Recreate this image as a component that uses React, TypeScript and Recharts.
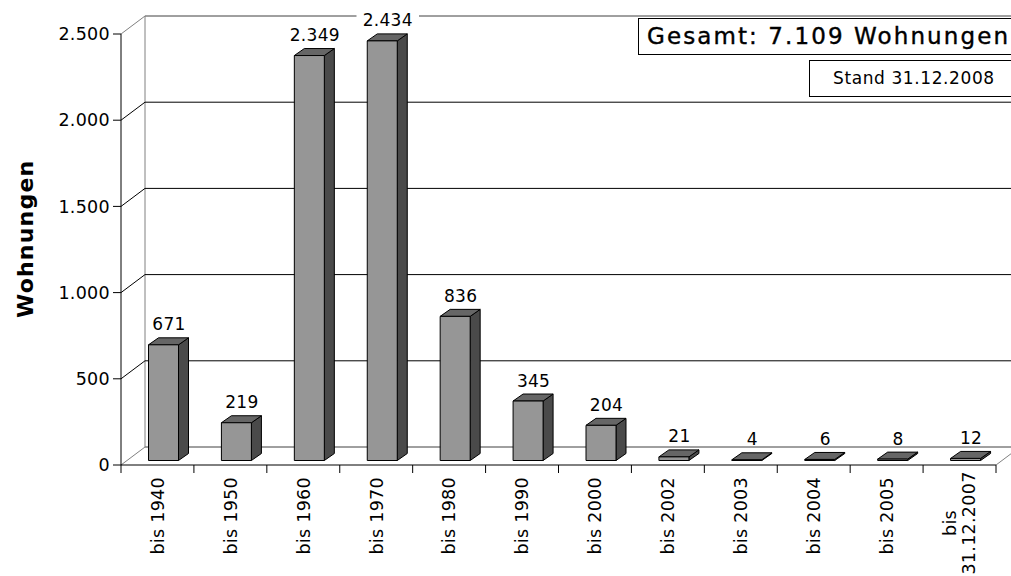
import React from 'react';
import { BarChart, Bar, XAxis, YAxis, CartesianGrid, LabelList } from 'recharts';

const categories = [
  'bis 1940',
  'bis 1950',
  'bis 1960',
  'bis 1970',
  'bis 1980',
  'bis 1990',
  'bis 2000',
  'bis 2002',
  'bis 2003',
  'bis 2004',
  'bis 2005',
  'bis 31.12.2007',
];
const counts = [671, 219, 2349, 2434, 836, 345, 204, 21, 4, 6, 8, 12];
const yTicks = [0, 500, 1000, 1500, 2000, 2500];
const axisTitle = 'Wohnungen';
const totalText = 'Gesamt: 7.109 Wohnungen';
const dateText = 'Stand 31.12.2008';

const data = categories.map((cat, i) => ({ cat, value: counts[i] }));

const W = 1011;
const H = 576;
const TOP = 34;
const BOTTOM = 465;
const LEFT = 121;
const RIGHT = 996;
const DX = 24; // back wall offset
const DY = -18;
const SX = 6.5; // bar sits a bit back in the depth
const SY = -4.5;
const BX = 10; // bar depth
const BY = -7;
const FONT = '"DejaVu Sans", Verdana, sans-serif';
const WALL = '#808080';

// german thousands separator
const fmt = (n: number) => String(n).replace(/\B(?=(\d{3})+(?!\d))/g, '.');

const Bar3D = (props: any) => {
  const { x, y, width, height } = props;
  const fx = x + SX;
  const fy = y + SY;
  const r = fx + width;
  const h = Math.max(height, 0);
  return (
    <g stroke="#000" strokeWidth={1} strokeLinejoin="round">
      <polygon
        points={`${r},${fy + h} ${r + BX},${fy + h + BY} ${r + BX},${fy + BY} ${r},${fy}`}
        fill="#4a4a4a"
      />
      <polygon
        points={`${fx},${fy} ${fx + BX},${fy + BY} ${r + BX},${fy + BY} ${r},${fy}`}
        fill="#666666"
      />
      <rect x={fx} y={fy} width={width} height={h} fill="#969696" />
    </g>
  );
};

const ValueLabel = (props: any) => {
  const { x, y, width, value } = props;
  const cx = x + width / 2 + 12;
  const base = y - 19;
  const text = fmt(value);
  const tw = text.length * 10.5;
  return (
    <g>
      {base - 16 < 20 && (
        <rect x={cx - tw / 2 - 5} y={base - 16} width={tw + 10} height={20} fill="#fff" />
      )}
      <text x={cx} y={base} textAnchor="middle" fontSize={17} letterSpacing={0.3} fontFamily={FONT} fill="#000">
        {text}
      </text>
    </g>
  );
};

const CatTick = (props: any) => {
  const { x, payload, index } = props;
  const half = payload && payload.offset ? payload.offset : (RIGHT - LEFT) / categories.length / 2;
  const label = String(payload.value);
  const lines = label.length > 10 ? label.split(' ') : [label];
  const tickLines = (
    <g stroke="#000">
      <line x1={x - half} x2={x - half} y1={BOTTOM} y2={BOTTOM + 8} />
      {index === categories.length - 1 && <line x1={x + half} x2={x + half} y1={BOTTOM} y2={BOTTOM + 8} />}
    </g>
  );
  if (lines.length === 1) {
    return (
      <g>
        {tickLines}
        <text
          x={x}
          y={477}
          transform={`rotate(-90, ${x}, 477)`}
          textAnchor="end"
          dy="0.36em"
          fontSize={17.5}
          letterSpacing={0.3}
          fontFamily={FONT}
          fill="#000"
        >
          {label}
        </text>
      </g>
    );
  }
  const cy = 523;
  return (
    <g>
      {tickLines}
      {lines.map((ln, i) => {
        const lx = x + (i === 0 ? -10 : 9);
        return (
          <text
            key={ln}
            x={lx}
            y={cy}
            transform={`rotate(-90, ${lx}, ${cy})`}
            textAnchor="middle"
            dy="0.36em"
            fontSize={17.5}
            letterSpacing={0.3}
            fontFamily={FONT}
            fill="#000"
          >
            {ln}
          </text>
        );
      })}
    </g>
  );
};

const GridLine = (props: any) => {
  const { x1, x2, y1, index } = props;
  const edge = Math.abs(y1 - TOP) < 1 || Math.abs(y1 - BOTTOM) < 1;
  const col = edge ? WALL : '#000';
  return (
    <g key={`grid-${index}`}>
      <line x1={x1 + DX} x2={x2 + DX + 20} y1={y1 + DY} y2={y1 + DY} stroke={col} />
      <line x1={x1} y1={y1} x2={x1 + DX} y2={y1 + DY} stroke={col} />
    </g>
  );
};

export default function App() {
  return (
    <div style={{ position: 'relative', width: W, height: H, overflow: 'hidden', background: '#fff' }}>
      <style>{'body{margin:0}'}</style>
      <svg width={W} height={H} style={{ position: 'absolute', left: 0, top: 0 }}>
        <g stroke={WALL} strokeWidth={1}>
          <line x1={LEFT + DX} x2={LEFT + DX} y1={TOP + DY} y2={BOTTOM + DY} />
          <line x1={LEFT + DX} x2={W} y1={TOP + DY} y2={TOP + DY} />
          <line x1={LEFT + DX} x2={W} y1={BOTTOM + DY} y2={BOTTOM + DY} />
          <line x1={RIGHT} y1={BOTTOM} x2={RIGHT + DX} y2={BOTTOM + DY} />
        </g>
        <text
          x={33}
          y={318}
          transform="rotate(-90, 33, 318)"
          fontSize={22}
          fontWeight="bold"
          letterSpacing={1.2}
          fontFamily={FONT}
          fill="#000"
        >
          {axisTitle}
        </text>
      </svg>
      <div style={{ position: 'absolute', left: 0, top: 0 }}>
        <BarChart
          width={W}
          height={H}
          data={data}
          margin={{ top: TOP, right: W - RIGHT, left: 0, bottom: 0 }}
        >
          <CartesianGrid vertical={false} horizontal={GridLine} />
          <YAxis
            width={LEFT}
            domain={[0, 2500]}
            ticks={yTicks}
            interval={0}
            tickFormatter={fmt}
            tickSize={8}
            tickMargin={3}
            axisLine={{ stroke: '#000' }}
            tickLine={{ stroke: '#000' }}
            tick={{ fill: '#000', fontSize: 17.5, fontFamily: FONT, letterSpacing: 0.3 }}
          />
          <XAxis
            dataKey="cat"
            height={H - BOTTOM}
            interval={0}
            axisLine={{ stroke: '#000' }}
            tickLine={false}
            tick={CatTick}
          />
          <Bar dataKey="value" barSize={30} shape={Bar3D} isAnimationActive={false}>
            <LabelList dataKey="value" content={ValueLabel} />
          </Bar>
        </BarChart>
      </div>
      <div
        style={{
          position: 'absolute',
          left: 638,
          top: 18,
          width: 420,
          height: 37,
          boxSizing: 'border-box',
          border: '1px solid #000',
          background: '#fff',
          paddingLeft: 8,
          fontFamily: FONT,
          fontSize: 23,
          letterSpacing: 2.1,
          lineHeight: '35px',
          whiteSpace: 'nowrap',
          WebkitTextStroke: '0.4px #000',
        }}
      >
        {totalText}
      </div>
      <div
        style={{
          position: 'absolute',
          left: 809,
          top: 60,
          width: 240,
          height: 37,
          boxSizing: 'border-box',
          border: '1px solid #000',
          background: '#fff',
          paddingLeft: 23,
          fontFamily: FONT,
          fontSize: 17,
          letterSpacing: 0.6,
          lineHeight: '35px',
          whiteSpace: 'nowrap',
        }}
      >
        {dateText}
      </div>
    </div>
  );
}
